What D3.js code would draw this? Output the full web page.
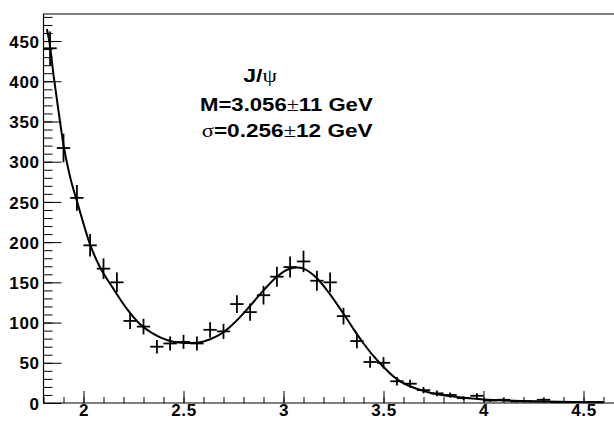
<!DOCTYPE html>
<html>
<head>
<meta charset="utf-8">
<script src="https://cdn.jsdelivr.net/npm/d3@7/dist/d3.min.js"></script>
<style>
  html, body { margin: 0; padding: 0; background: #fff; }
  svg { display: block; }
</style>
</head>
<body>
<script>
// ---- data ----
const binCenters = [1.833, 1.9, 1.967, 2.033, 2.1, 2.167, 2.233, 2.3, 2.367, 2.433,
  2.5, 2.567, 2.633, 2.7, 2.767, 2.833, 2.9, 2.967, 3.033, 3.1,
  3.167, 3.233, 3.3, 3.367, 3.433, 3.5, 3.567, 3.633, 3.7, 3.767,
  3.833, 3.9, 3.967, 4.033, 4.1, 4.167, 4.233, 4.3, 4.367, 4.433,
  4.5, 4.567];
const binWidth = 0.0667;
const counts = [441, 317, 255, 196, 167, 150, 102, 95, 70, 74,
  76, 74, 91, 89, 123, 113, 134, 157, 169, 176,
  152, 150, 108, 77, 51, 50, 27, 24, 16, 12,
  10, 6, 9, 3, 4, 2, 2, 4, 1, 1,
  1, 1];
const errors = [21, 17.8, 16, 14, 12.9, 12.2, 10.1, 9.7, 8.4, 8.6,
  8.7, 8.6, 9.5, 9.4, 11.1, 10.6, 11.6, 12.5, 13, 13.3,
  12.3, 12.2, 10.4, 8.8, 7.1, 7.1, 5.2, 4.9, 4, 3.5,
  3.2, 2.4, 3, 1.7, 2, 1.4, 1.4, 2, 1, 1,
  1, 1];
const fitX = [1.817, 1.83, 1.85, 1.87, 1.9, 1.93, 1.967, 2.0, 2.03, 2.08,
  2.147, 2.217, 2.283, 2.35, 2.42, 2.5, 2.57, 2.63, 2.7, 2.76,
  2.82, 2.9, 2.967, 3.03, 3.07, 3.1, 3.167, 3.23, 3.3, 3.35,
  3.4, 3.48, 3.57, 3.7, 3.8, 3.9, 4.0, 4.1, 4.2, 4.3,
  4.45, 4.6];
const fitY = [465, 448, 408, 372, 321, 284, 251, 223, 199, 170,
  143, 117, 98, 86, 78, 74.5, 75, 79, 88, 101,
  117, 140, 157, 167, 168.5, 167, 155, 136, 111, 92,
  74, 50, 29, 15, 9.5, 6.5, 4.5, 3.2, 2.4, 1.8,
  1.2, 0.9];
const xMajorTicks = [2, 2.5, 3, 3.5, 4, 4.5];
const xTickLabels = ["2", "2.5", "3", "3.5", "4", "4.5"];
const yMajorTicks = [0, 50, 100, 150, 200, 250, 300, 350, 400, 450];
const yTickLabels = ["0", "50", "100", "150", "200", "250", "300", "350", "400", "450"];
const annotation = ["J/", "ψ", "M=3.056", "±", "11 GeV", "σ", "=0.256", "±", "12 GeV"];

// ---- layout ----
const W = 614, H = 421;
const mLeft = 43.5, mRight = 614.5, mTop = 13.7, mBottom = 403;
const x = d3.scaleLinear().domain([1.8, 4.655]).range([mLeft, mRight]);
const y = d3.scaleLinear().domain([0, 484]).range([mBottom, mTop]);

const svg = d3.select("body").append("svg").attr("width", W).attr("height", H);
svg.append("rect").attr("width", W).attr("height", H).attr("fill", "#fff");

// frame (top line; right side is outside the picture)
svg.append("line").attr("x1", mLeft).attr("x2", W + 2).attr("y1", 14).attr("y2", 14)
  .attr("stroke", "#000").attr("stroke-width", 1);

// minor ticks
const xMinor = d3.range(18, 47).map(d => d / 10);
const yMinor = d3.range(0, 481, 10);
svg.append("g").attr("transform", `translate(0,${mBottom})`)
  .call(d3.axisBottom(x).tickValues(xMinor).tickSize(-6).tickSizeOuter(0).tickFormat(""))
  .call(g => g.select(".domain").remove())
  .selectAll("line").attr("stroke", "#000");
svg.append("g").attr("transform", `translate(${mLeft},0)`)
  .call(d3.axisLeft(y).tickValues(yMinor).tickSize(-9).tickSizeOuter(0).tickFormat(""))
  .call(g => g.select(".domain").remove())
  .selectAll("line").attr("stroke", "#000");

// major ticks + labels
const xAxis = svg.append("g").attr("transform", `translate(0,${mBottom})`)
  .call(d3.axisBottom(x).tickValues(xMajorTicks).tickSize(-12).tickSizeOuter(0)
    .tickFormat((d, i) => xTickLabels[i]).tickPadding(8));
xAxis.select(".domain").attr("d", `M${mLeft},0H${W + 2}`).attr("stroke", "#000").attr("stroke-width", 1.2);
xAxis.selectAll("line").attr("stroke", "#000");
xAxis.selectAll("text").attr("fill", "#000")
  .style("font", "bold 17px 'Liberation Sans', Arial, sans-serif")
  .style("letter-spacing", "0.6px").attr("dy", "0.32em");

const yAxis = svg.append("g").attr("transform", `translate(${mLeft},0)`)
  .call(d3.axisLeft(y).tickValues(yMajorTicks).tickSize(-18).tickSizeOuter(0)
    .tickFormat((d, i) => yTickLabels[i]).tickPadding(4));
yAxis.select(".domain").attr("d", `M0,${mBottom}V${mTop}`).attr("stroke", "#000").attr("stroke-width", 1.2);
yAxis.selectAll("line").attr("stroke", "#000");
yAxis.selectAll("text").attr("fill", "#000")
  .style("font", "bold 17px 'Liberation Sans', Arial, sans-serif")
  .style("letter-spacing", "0.6px").attr("dy", "0.36em");

// data points with error bars (crosses)
const pts = svg.append("g").attr("stroke", "#000").attr("stroke-width", 1.8).attr("fill", "none");
binCenters.forEach((c, i) => {
  pts.append("line")
    .attr("x1", x(c - binWidth / 2)).attr("x2", x(c + binWidth / 2))
    .attr("y1", y(counts[i])).attr("y2", y(counts[i]));
  pts.append("line")
    .attr("x1", x(c)).attr("x2", x(c))
    .attr("y1", y(counts[i] - errors[i])).attr("y2", y(counts[i] + errors[i]));
});

// fit curve
const fit = fitX.map((d, i) => [d, fitY[i]]);
svg.append("path").datum(fit)
  .attr("d", d3.line().x(d => x(d[0])).y(d => y(d[1])).curve(d3.curveMonotoneX))
  .attr("fill", "none").attr("stroke", "#000").attr("stroke-width", 2);

// annotation
const boldF = "'Liberation Sans', Arial, sans-serif";
const serifF = "'Liberation Serif', 'Times New Roman', serif";
function note(xs, ys, parts, len) {
  const t = svg.append("text").attr("x", xs).attr("y", ys)
    .attr("font-size", 18.5).attr("fill", "#000")
    .attr("textLength", len).attr("lengthAdjust", "spacingAndGlyphs");
  parts.forEach(p => {
    t.append("tspan").text(p.s)
      .attr("font-family", p.sym ? serifF : boldF)
      .attr("font-weight", p.sym ? "normal" : "bold");
  });
}
note(243.3, 81.7, [{s: annotation[0]}, {s: annotation[1], sym: true}], 33.7);
note(200, 110.7, [{s: annotation[2]}, {s: annotation[3], sym: true}, {s: annotation[4]}], 172.7);
note(201.7, 136.7, [{s: annotation[5], sym: true}, {s: annotation[6]}, {s: annotation[7], sym: true}, {s: annotation[8]}], 171);
</script>
</body>
</html>
